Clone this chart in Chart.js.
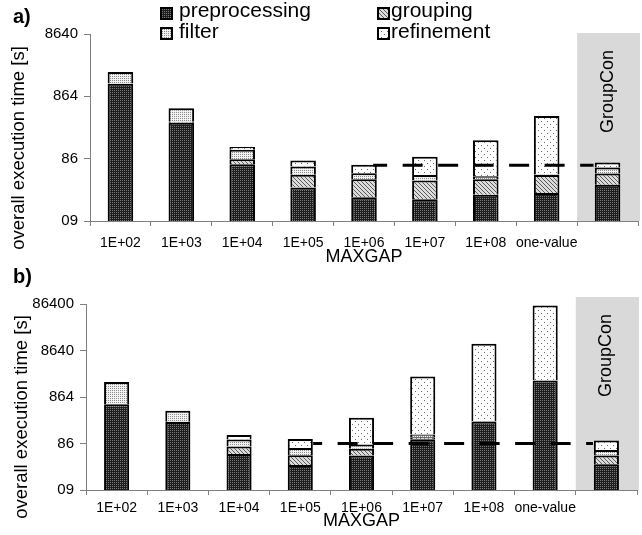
<!DOCTYPE html>
<html><head><meta charset="utf-8">
<script src="https://cdn.jsdelivr.net/npm/chart.js@4.4.1/dist/chart.umd.min.js"></script>
<style>
html,body{margin:0;padding:0;background:#fff;}
body{width:642px;height:535px;position:relative;overflow:hidden;font-family:"Liberation Sans",Arial,sans-serif;color:#000;}
canvas{position:absolute;left:0;}
#ca{top:0;width:642px;height:270px;}
#cb{top:270px;width:642px;height:265px;}
.txt{position:absolute;white-space:nowrap;}
.lg{font-size:21px;line-height:21px;}
.panel{font-size:20px;line-height:20px;font-weight:bold;}
.ytitle{font-size:18.5px;line-height:20px;transform:translate(-50%,-50%) rotate(-90deg);}
.sw{position:absolute;}
</style></head>
<body>
<canvas id="ca" width="642" height="270"></canvas>
<canvas id="cb" width="642" height="265"></canvas>
<script>
// ---------- data ----------
const categories = ['1E+02','1E+03','1E+04','1E+05','1E+06','1E+07','1E+08','one-value',''];
const seriesNames = ['preprocessing','grouping','filter','refinement'];
const shadeLabel = 'GroupCon';
const xTitle = 'MAXGAP';
const yTitle = 'overall execution time [s]';

// panel a
const aPreprocessing = [1380, 325, 70, 29.7, 20.8, 19.3, 22.7, 24.2, 32.9];
const aGrouping      = [5, 12, 14.4, 18, 19.5, 19.1, 17.6, 23, 17];
const aFilter        = [741, 218, 36, 17.2, 10.1, 8.8, 4.8, 1, 12.4];
const aRefinement    = [5, 5, 13, 16.2, 18.7, 45.9, 125, 368, 13];
const aTickValues = [8.64, 86.4, 864, 8640];
const aTickLabels = ['09', '86', '864', '8640'];
const aRefValue = 67.5;
const aRefFrom = 4.15, aRefTo = 7.77;

// panel b
const bPreprocessing = [607, 249, 51.6, 29.9, 47.4, 107, 256, 1961, 30.9];
const bGrouping      = [5, 5, 22.5, 18.5, 19.3, 11, 3, 5, 17];
const bFilter        = [1193, 185, 31.8, 21.1, 15.9, 17.6, 3, 5, 15];
const bRefinement    = [5, 3, 26.5, 39.1, 225, 2254, 11850, 77860, 36.9];
const bTickValues = [8.64, 86.4, 864, 8640, 86400];
const bTickLabels = ['09', '86', '864', '8640', '86400'];
const bRefValue = 86.4;
const bRefFrom = 3.21, bRefTo = 7.78;

// ---------- patterns ----------
function makeTile(kind) {
  const t = document.createElement('canvas');
  let n;
  const c = t.getContext('2d');
  if (kind === 0) { // preprocessing: dark dotted
    n = 2; t.width = t.height = n;
    c.fillStyle = '#1c1c1c'; c.fillRect(0,0,n,n);
    c.fillStyle = '#7c7c7c'; c.fillRect(0,0,1,1);
  } else if (kind === 1) { // grouping: diagonal hatch
    n = 4; t.width = t.height = n;
    c.fillStyle = '#dcdcdc'; c.fillRect(0,0,n,n);
    c.fillStyle = '#5a5a5a';
    for (let i = 0; i < n; i++) c.fillRect(i, i, 1, 1);
  } else if (kind === 2) { // filter: dense light dots
    n = 2; t.width = t.height = n;
    c.fillStyle = '#f2f2f2'; c.fillRect(0,0,n,n);
    c.fillStyle = '#8a8a8a'; c.fillRect(0,0,1,1);
  } else { // refinement: sparse dots
    n = 6; t.width = t.height = n;
    c.fillStyle = '#ffffff'; c.fillRect(0,0,n,n);
    c.fillStyle = '#6a6a6a'; c.fillRect(1,1,1,1); c.fillRect(4,4,1,1);
  }
  return t;
}
const tiles = [0,1,2,3].map(makeTile);
function patternsFor(ctx) { return tiles.map(t => ctx.createPattern(t, 'repeat')); }

// ---------- plugin ----------
const panelPlugin = {
  id: 'panel',
  beforeDraw(chart, args, o) {
    const {ctx, chartArea, scales: {x}} = chart;
    const half = (x.getPixelForValue(1) - x.getPixelForValue(0)) / 2;
    const cx = x.getPixelForValue(o.shadeIndex);
    const left = cx - half, right = Math.min(cx + half + 2, chart.width);
    const top = chartArea.top + o.shadeTop;
    ctx.save();
    ctx.fillStyle = '#d9d9d9';
    ctx.fillRect(left, top, right - left, chartArea.bottom - top);
    ctx.translate(cx, top + o.labelOffset);
    ctx.rotate(-Math.PI / 2);
    ctx.textAlign = 'right';
    ctx.textBaseline = 'middle';
    ctx.font = '18px "Liberation Sans", Arial, sans-serif';
    ctx.fillStyle = '#000';
    ctx.fillText(o.label, 0, 0);
    ctx.restore();
  },
  afterDatasetsDraw(chart, args, o) {
    const {ctx, scales: {x, y}} = chart;
    const py = y.getPixelForValue(o.refValue);
    const x1 = x.getPixelForValue(o.refFrom), x2 = x.getPixelForValue(o.refTo);
    ctx.save();
    ctx.strokeStyle = '#000';
    ctx.lineWidth = 3;
    ctx.setLineDash([20, 15.5]);
    ctx.lineDashOffset = o.dashOffset;
    ctx.beginPath(); ctx.moveTo(x1, py); ctx.lineTo(x2, py); ctx.stroke();
    ctx.restore();
  }
};

const FONT = '"Liberation Sans", Arial, sans-serif';

function makeChart(id, series, tickValues, tickLabels, cfg) {
  const canvas = document.getElementById(id);
  const pats = patternsFor(canvas.getContext('2d'));
  return new Chart(canvas, {
    type: 'bar',
    data: {
      labels: categories,
      datasets: series.map((d, i) => ({
        label: seriesNames[i], data: d,
        backgroundColor: pats[i], borderColor: '#000', borderWidth: 2,
        barPercentage: cfg.barPct, categoryPercentage: 1
      }))
    },
    options: {
      responsive: false, maintainAspectRatio: false, animation: false, devicePixelRatio: 1,
      layout: { padding: { top: 34, right: cfg.padRight, bottom: 0, left: 0 } },
      plugins: {
        legend: { display: false }, tooltip: { enabled: false },
        panel: { shadeIndex: 8, shadeTop: cfg.shadeTop, labelOffset: 17, label: shadeLabel,
                 refValue: cfg.refValue, refFrom: cfg.refFrom, refTo: cfg.refTo, dashOffset: cfg.dashOffset }
      },
      scales: {
        x: {
          stacked: true, offset: true,
          ticks: { font: { family: FONT, size: 14 }, color: '#000', padding: cfg.xPad, maxRotation: 0, autoSkip: false },
          grid: { display: true, drawOnChartArea: false, drawTicks: true, tickLength: 5, color: '#808080', offset: true },
          border: { display: true, color: '#808080', width: 1 },
          title: { display: true, text: xTitle, font: { family: FONT, size: 18 }, color: '#000', padding: { top: 0, bottom: cfg.titlePad } },
          afterFit: s => { s.height = cfg.xHeight; }
        },
        y: {
          type: 'logarithmic', stacked: true, bounds: 'data',
          min: tickValues[0], max: tickValues[tickValues.length - 1],
          afterBuildTicks: s => { s.ticks = tickValues.map(v => ({ value: v })); },
          ticks: { callback: (v, i) => tickLabels[i], font: { family: FONT, size: 15 }, color: '#000', padding: 6, autoSkip: false },
          grid: { display: true, drawOnChartArea: false, drawTicks: true, tickLength: 6, color: '#808080' },
          border: { display: true, color: '#808080', width: 1 },
          afterFit: s => { s.width = cfg.yWidth; }
        }
      }
    },
    plugins: [panelPlugin]
  });
}

makeChart('ca', [aPreprocessing, aGrouping, aFilter, aRefinement], aTickValues, aTickLabels,
  { barPct: 0.42, padRight: 4, yWidth: 90, xHeight: 49, xPad: 8.6, titlePad: 2, shadeTop: -1,
    refValue: aRefValue, refFrom: aRefFrom, refTo: aRefTo, dashOffset: 6 });
makeChart('cb', [bPreprocessing, bGrouping, bFilter, bRefinement], bTickValues, bTickLabels,
  { barPct: 0.41, padRight: 5, yWidth: 86, xHeight: 45, xPad: 4.6, titlePad: 3, shadeTop: -7,
    refValue: bRefValue, refFrom: bRefFrom, refTo: bRefTo, dashOffset: 11 });

// ---------- HTML texts: panel letters, y titles, legend ----------
function addText(txt, cls, left, top) {
  const d = document.createElement('div');
  d.className = 'txt ' + cls; d.textContent = txt;
  d.style.left = left + 'px'; d.style.top = top + 'px';
  document.body.appendChild(d); return d;
}
addText('a)', 'panel', 13, 6);
addText('b)', 'panel', 13, 266);
addText(yTitle, 'ytitle', 18, 148);
addText(yTitle, 'ytitle', 21, 417);

const legendItems = [
  { s: 0, bx: 160, by: 7,  tx: 179, ty: -1 },
  { s: 2, bx: 160, by: 27, tx: 179, ty: 20 },
  { s: 1, bx: 377, by: 7,  tx: 391, ty: -1 },
  { s: 3, bx: 377, by: 27, tx: 391, ty: 20 }
];
legendItems.forEach(it => {
  const c = document.createElement('canvas');
  c.width = 13; c.height = 13; c.className = 'sw';
  c.style.left = it.bx + 'px'; c.style.top = it.by + 'px';
  const g = c.getContext('2d');
  g.fillStyle = g.createPattern(tiles[it.s], 'repeat'); g.fillRect(0, 0, 13, 13);
  g.strokeStyle = '#000'; g.lineWidth = 2; g.strokeRect(1, 1, 11, 11);
  document.body.appendChild(c);
  addText(seriesNames[it.s], 'lg', it.tx, it.ty);
});
</script>
</body></html>
